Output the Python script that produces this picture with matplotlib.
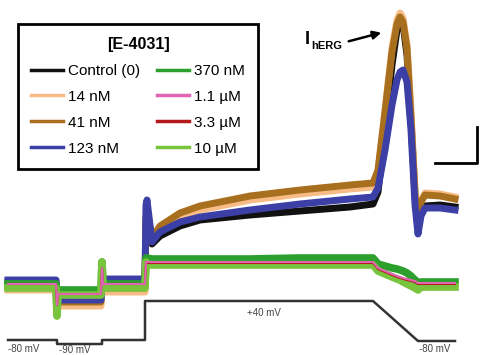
import matplotlib.pyplot as plt

plt.rcParams['font.family'] = ['Liberation Sans', 'DejaVu Sans']

# 采样时间点（横向，按原图刻度读取）
t = [8, 56, 57, 58, 101, 102, 103, 145, 146, 147, 152, 160, 180, 200, 250, 300,
     350, 373, 378, 385, 392, 397, 400, 403, 407, 411, 415, 418, 421, 425, 440, 455]

# 各浓度下的电流轨迹（纵向读数，数值越小越靠上）
control = [282, 282, 300, 298, 298, 282, 282, 282, 220, 212, 244, 236, 226, 220, 215, 211,
           207, 204, 192, 130, 65, 30, 18, 24, 55, 120, 195, 226, 212, 206, 205, 207]
nm14 = [290, 290, 316, 306, 306, 278, 292, 292, 220, 212, 240, 228, 216, 210, 200, 194,
        189, 187, 172, 110, 48, 20, 13, 18, 45, 112, 190, 222, 200, 193, 194, 197]
nm41 = [286, 286, 305, 302, 302, 280, 288, 288, 218, 210, 238, 226, 213, 206, 196, 190,
        185, 183, 170, 112, 52, 24, 17, 22, 48, 118, 195, 226, 202, 195, 196, 199]
nm123 = [280, 280, 302, 300, 300, 270, 279, 279, 205, 200, 242, 232, 222, 217, 210, 204,
         199, 197, 188, 150, 105, 80, 72, 70, 82, 130, 205, 234, 216, 208, 208, 210]
nm370 = [284, 284, 310, 290, 290, 262, 284, 284, 258, 258, 259, 259, 259, 259, 259, 258,
         258, 258, 264, 266, 268, 269, 270, 271, 273, 276, 280, 283, 282, 282, 282, 282]
um1_1 = [284, 284, 305, 294, 294, 268, 284, 284, 262, 262, 262, 262, 262, 262, 262, 262,
         262, 262, 268, 271, 274, 276, 277, 278, 279, 280, 281, 283, 283, 283, 283, 283]
um3_3 = [284, 284, 305, 294, 294, 268, 284, 284, 262, 263, 263, 263, 263, 263, 263, 263,
         263, 263, 269, 272, 275, 277, 278, 279, 280, 281, 282, 284, 284, 284, 284, 284]
um10 = [288, 288, 316, 295, 295, 262, 288, 288, 262, 264, 265, 265, 265, 265, 265, 265,
        265, 265, 271, 274, 277, 279, 280, 282, 284, 286, 288, 290, 287, 287, 287, 287]

# 电压刺激方案
t_v = [8, 57, 57, 102, 102, 145, 145, 373, 418, 455]
v_cmd = [340, 340, 344, 344, 340, 340, 301, 301, 341, 341]

fig = plt.figure(figsize=(4.8, 3.55), dpi=100)
ax = fig.add_axes([0, 0, 1, 1])

# 上方一组（低浓度）
l_ctrl, = ax.plot(t, control, color='#111111', lw=5, label='Control (0)')
l_14, = ax.plot(t, nm14, color='#f7bc85', lw=5, label='14 nM')
l_41, = ax.plot(t, nm41, color='#a8701e', lw=5, label='41 nM')
l_123, = ax.plot(t, nm123, color='#3b3fa6', lw=5, label='123 nM')
# 下方一组（高浓度）
l_370, = ax.plot(t, nm370, color='#2ca02c', lw=5.5, label='370 nM')
l_10, = ax.plot(t, um10, color='#78c43c', lw=5.5, label='10 µM')
l_33, = ax.plot(t, um3_3, color='#b51a1a', lw=1.5, label='3.3 µM')
l_11, = ax.plot(t, um1_1, color='#e064b4', lw=1.5, label='1.1 µM')

ax.plot(t_v, v_cmd, color='#333333', lw=1.8)

txt = dict(fontsize=7, color='#444444')
ax.text(8, 344, '-80 mV', va='top', **txt)
ax.text(59, 345, '-90 mV', va='top', **txt)
ax.text(264, 308, '+40 mV', ha='center', va='top', **txt)
ax.text(419, 344, '-80 mV', va='top', **txt)

# I_hERG 标注
ax.text(305, 40, 'I', fontsize=13, fontweight='bold', va='center')
ax.text(311, 46, 'hERG', fontsize=8, fontweight='bold', va='center')
ax.annotate('', xy=(384, 32), xytext=(346, 42),
            arrowprops=dict(arrowstyle='-|>', color='black', lw=1.8, mutation_scale=12))

# 标尺
ax.plot([435, 477, 477], [163, 163, 127], color='black', lw=2)

handles = [l_ctrl, l_14, l_41, l_123, l_370, l_11, l_33, l_10]
leg = ax.legend(handles=handles, ncol=2, loc='upper left',
                bbox_to_anchor=(18 / 480, 1 - 24 / 355), title='[E-4031]',
                fontsize=11, title_fontproperties={'weight': 'bold', 'size': 11.5},
                frameon=True, fancybox=False, edgecolor='black', framealpha=1,
                handlelength=2.1, handletextpad=0.33, columnspacing=1.1,
                labelspacing=0.78, borderpad=0.85, borderaxespad=0)
leg.get_frame().set_linewidth(2)
for ln in leg.get_lines():
    ln.set_linewidth(2.5)

ax.set_xlim(0, 480)
ax.set_ylim(355, 0)
ax.axis('off')

fig.savefig('out.png', dpi=100)
